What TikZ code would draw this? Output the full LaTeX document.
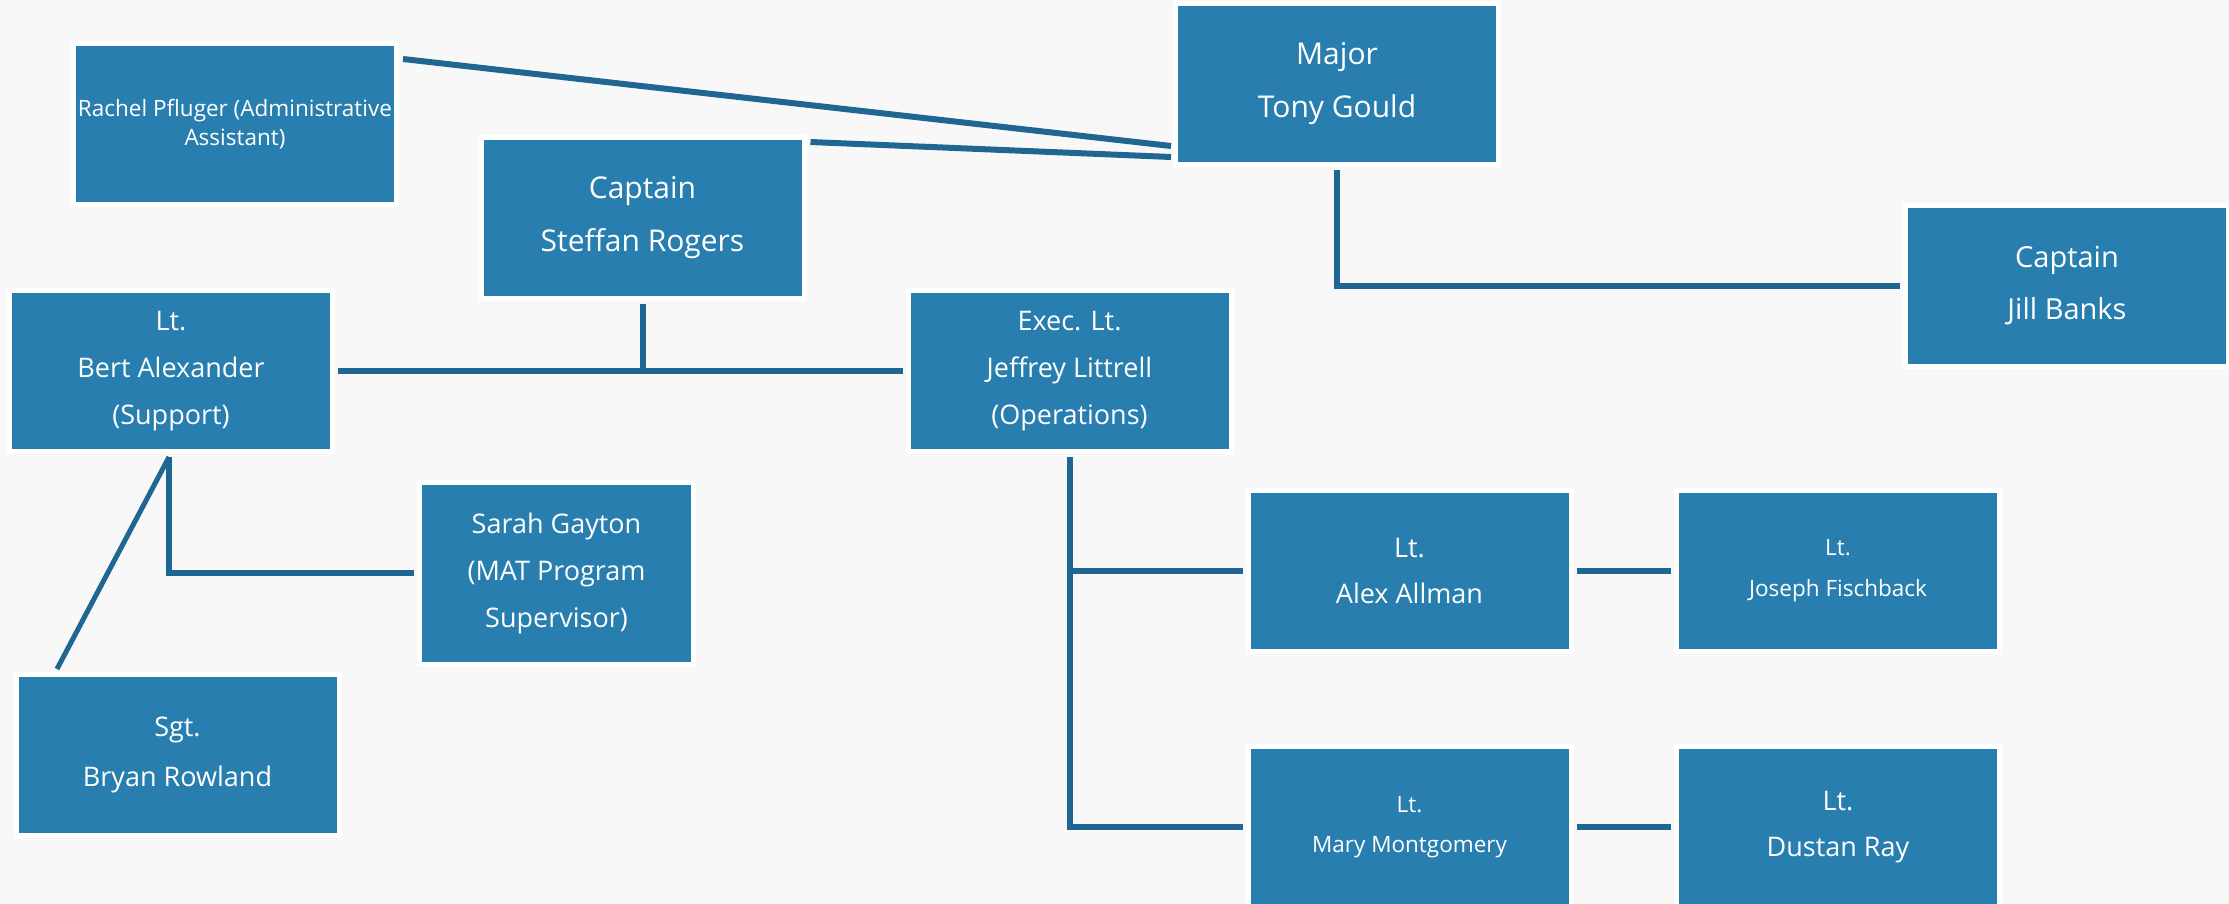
\documentclass[tikz,border=0pt]{standalone}
\usepackage{fontspec}
\setmainfont{Open Sans}
\definecolor{boxblue}{RGB}{40,126,174}
\definecolor{linkblue}{RGB}{31,103,146}
\definecolor{bgpaper}{RGB}{248,248,248}
\tikzset{
  person/.style={draw=white, line width=5pt, fill=boxblue, text=white,
    minimum width=323pt, minimum height=161pt, inner sep=0pt, align=center},
  bigtwo/.style={font=\fontsize{30}{53}\selectfont},
  bigthree/.style={font=\fontsize{27}{47}\selectfont},
  smalltext/.style={font=\fontsize{22.5}{41}\selectfont},
  link/.style={draw=linkblue, line width=6pt},
}
\begin{document}
\begin{tikzpicture}[x=1pt,y=-1pt]
\fill[bgpaper] (0,0) rectangle (2229,904);
\useasboundingbox (0,0) rectangle (2229,904);
\node[person, font=\fontsize{22.5}{29}\selectfont] (rachel) at (235,124) {Rachel Pfluger (Administrative\\Assistant)};
\node[person, bigtwo] (steffan) at (642.5,218) {Captain\\Steffan Rogers};
\node[person, bigtwo] (major) at (1337,84) {Major\\Tony Gould};
\node[person, font=\fontsize{29}{52}\selectfont] (jill) at (2067,286) {Captain\\Jill Banks};
\node[person, bigthree] (bert) at (171,371) {Lt.\\Bert Alexander\\(Support)};
\node[person, bigthree] (exec) at (1069.5,371) {Exec. Lt.\\Jeffrey Littrell\\(Operations)};
\node[person, bigthree, minimum width=274pt, minimum height=182pt] (sarah) at (556.5,573) {Sarah Gayton\\(MAT Program\\Supervisor)};
\node[person, font=\fontsize{27}{50}\selectfont] (bryan) at (177.5,755) {Sgt.\\Bryan Rowland};
\node[person, font=\fontsize{27}{46}\selectfont] (alex) at (1409.5,571) {Lt.\\Alex Allman};
\node[person, smalltext] (joseph) at (1838,571) {Lt.\\Joseph Fischback};
\node[person, font=\fontsize{22.5}{40}\selectfont] (mary) at (1409.5,827) {Lt.\\Mary Montgomery};
\node[person, font=\fontsize{27}{46}\selectfont] (dustan) at (1838,827) {Lt.\\Dustan Ray};

\draw[link] ([xshift=4pt,yshift=65pt]rachel.east) -- ([xshift=-2pt,yshift=-62pt]major.west);
\draw[link] ([xshift=4pt,yshift=76pt]steffan.east) -- ([xshift=-2pt,yshift=-73pt]major.west);
\draw[link] ([yshift=-3pt]major.south) |- ([xshift=-3pt]jill.west);
\draw[link] ([xshift=3pt]bert.east) -- ([xshift=-3pt]exec.west);
\draw[link] ([yshift=-3pt]steffan.south) -- (steffan.south |- bert.east);
\draw[link] ([xshift=-2pt,yshift=-3pt]bert.south) |- ([xshift=-3pt]sarah.west);
\draw[link, line width=5pt] ([xshift=-2pt,yshift=-3pt]bert.south) -- ([xshift=-120.5pt,yshift=3pt]bryan.north);
\draw[link] ([yshift=-3pt]exec.south) |- ([xshift=-3pt]alex.west);
\draw[link] ([yshift=-3pt]exec.south) |- ([xshift=-3pt]mary.west);
\draw[link] ([xshift=3pt]alex.east) -- ([xshift=-3pt]joseph.west);
\draw[link] ([xshift=3pt]mary.east) -- ([xshift=-3pt]dustan.west);
\end{tikzpicture}
\end{document}
